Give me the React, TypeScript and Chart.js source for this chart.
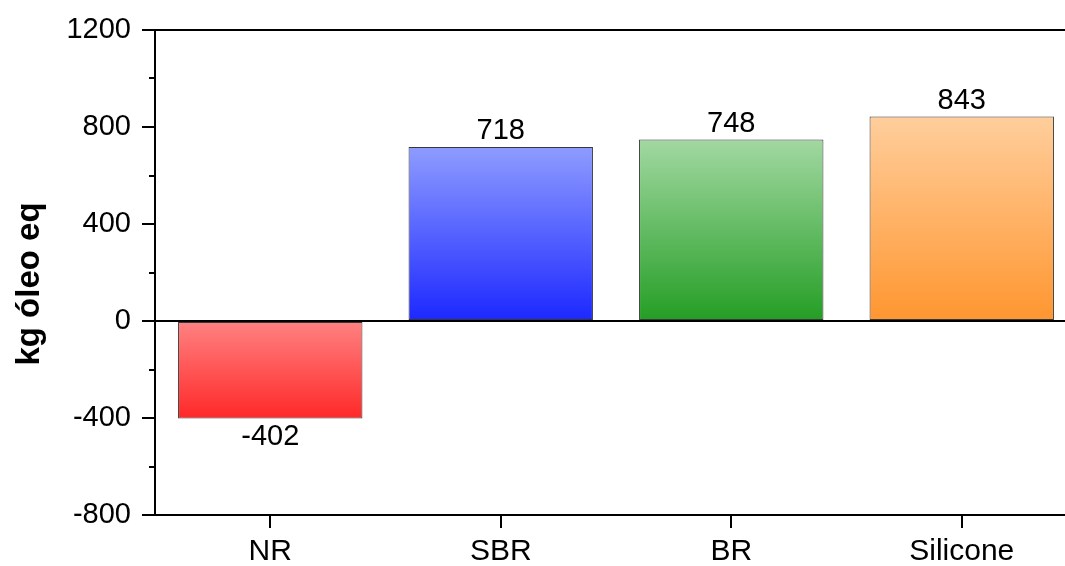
import React, { useEffect, useRef } from "react";
import { Chart, registerables } from "chart.js";

Chart.register(...registerables);

const categories = ["NR", "SBR", "BR", "Silicone"];
const values = [-402, 718, 748, 843];
const topColors = ["rgb(255,130,130)", "rgb(142,156,255)", "rgb(162,216,162)", "rgb(255,206,156)"];
const bottomColors = ["rgb(255,40,40)", "rgb(28,40,255)", "rgb(36,158,36)", "rgb(255,150,48)"];
const yMin = -800;
const yMax = 1200;
const yStep = 400;
const minorTicks = [-600, -200, 200, 600, 1000];
const yTitle = "kg óleo eq";

const FONT = "'Liberation Sans', Arial, sans-serif";

export default function App() {
  const ref = useRef<HTMLCanvasElement | null>(null);

  useEffect(() => {
    if (!ref.current) return;

    const overlay = {
      id: "overlay",
      afterDatasetsDraw(chart: any) {
        const { ctx, chartArea, scales } = chart;
        const y = scales.y;
        ctx.save();
        ctx.strokeStyle = "#000";
        ctx.lineWidth = 2;
        // top border
        ctx.beginPath();
        ctx.moveTo(chartArea.left - 1, chartArea.top);
        ctx.lineTo(chartArea.right, chartArea.top);
        ctx.stroke();
        // right border
        ctx.beginPath();
        ctx.moveTo(chartArea.right, chartArea.top);
        ctx.lineTo(chartArea.right, chartArea.bottom);
        ctx.stroke();
        // zero line
        const y0 = Math.round(y.getPixelForValue(0));
        ctx.beginPath();
        ctx.moveTo(chartArea.left, y0);
        ctx.lineTo(chartArea.right, y0);
        ctx.stroke();
        // minor ticks
        for (const v of minorTicks) {
          const py = Math.round(y.getPixelForValue(v));
          ctx.beginPath();
          ctx.moveTo(chartArea.left - 6, py);
          ctx.lineTo(chartArea.left, py);
          ctx.stroke();
        }
        // data labels
        const meta = chart.getDatasetMeta(0);
        ctx.fillStyle = "#000";
        ctx.font = `29px ${FONT}`;
        ctx.textAlign = "center";
        meta.data.forEach((bar: any, i: number) => {
          const v = values[i];
          if (v >= 0) {
            ctx.textBaseline = "bottom";
            ctx.fillText(String(v), bar.x, bar.y - 1);
          } else {
            ctx.textBaseline = "top";
            ctx.fillText(String(v), bar.x, bar.y + 4);
          }
        });
        // y-axis title
        ctx.save();
        ctx.translate(30, 284);
        ctx.rotate(-Math.PI / 2);
        ctx.font = `bold 33px ${FONT}`;
        ctx.textAlign = "center";
        ctx.textBaseline = "middle";
        ctx.fillText(yTitle, 0, 0);
        ctx.restore();
        ctx.restore();
      },
    };

    const chart = new Chart(ref.current, {
      type: "bar",
      data: {
        labels: categories,
        datasets: [
          {
            data: values,
            backgroundColor: (c: any) => {
              const chart = c.chart;
              const { chartArea, scales } = chart;
              const i = c.dataIndex;
              if (!chartArea || !scales.y) return bottomColors[i];
              const v = values[i];
              const yTop = scales.y.getPixelForValue(Math.max(v, 0));
              const yBot = scales.y.getPixelForValue(Math.min(v, 0));
              const g = chart.ctx.createLinearGradient(0, yTop, 0, yBot);
              g.addColorStop(0, topColors[i]);
              g.addColorStop(1, bottomColors[i]);
              return g;
            },
            borderColor: "rgb(55,55,55)",
            borderWidth: 1,
            borderSkipped: false,
            barPercentage: 0.8,
            categoryPercentage: 1,
          },
        ],
      },
      options: {
        responsive: false,
        animation: false,
        layout: { padding: { left: 0, top: 30, right: 3, bottom: 0 } },
        plugins: {
          legend: { display: false },
          tooltip: { enabled: false },
        },
        scales: {
          x: {
            type: "category",
            offset: true,
            grid: { drawOnChartArea: false, tickLength: 13, color: "#000", lineWidth: 2, offset: false },
            border: { display: true, color: "#000", width: 2 },
            ticks: { color: "#000", font: { family: FONT, size: 30 }, padding: 6, maxRotation: 0 },
            afterFit: (s: any) => {
              s.height = 51;
            },
          },
          y: {
            min: yMin,
            max: yMax,
            grid: { drawOnChartArea: false, tickLength: 13, color: "#000", lineWidth: 2 },
            border: { display: true, color: "#000", width: 2 },
            ticks: {
              stepSize: yStep,
              color: "#000",
              font: { family: FONT, size: 29 },
              padding: 11,
              callback: (v: any) => String(v),
            },
            afterFit: (s: any) => {
              s.width = 155;
            },
          },
        },
      },
      plugins: [overlay],
    } as any);

    return () => chart.destroy();
  }, []);

  return (
    <div style={{ position: "absolute", left: 0, top: 0, width: 1065, height: 566, overflow: "hidden", background: "#fff" }}>
      <canvas ref={ref} width={1080} height={566} style={{ width: 1080, height: 566, display: "block" }} />
    </div>
  );
}
